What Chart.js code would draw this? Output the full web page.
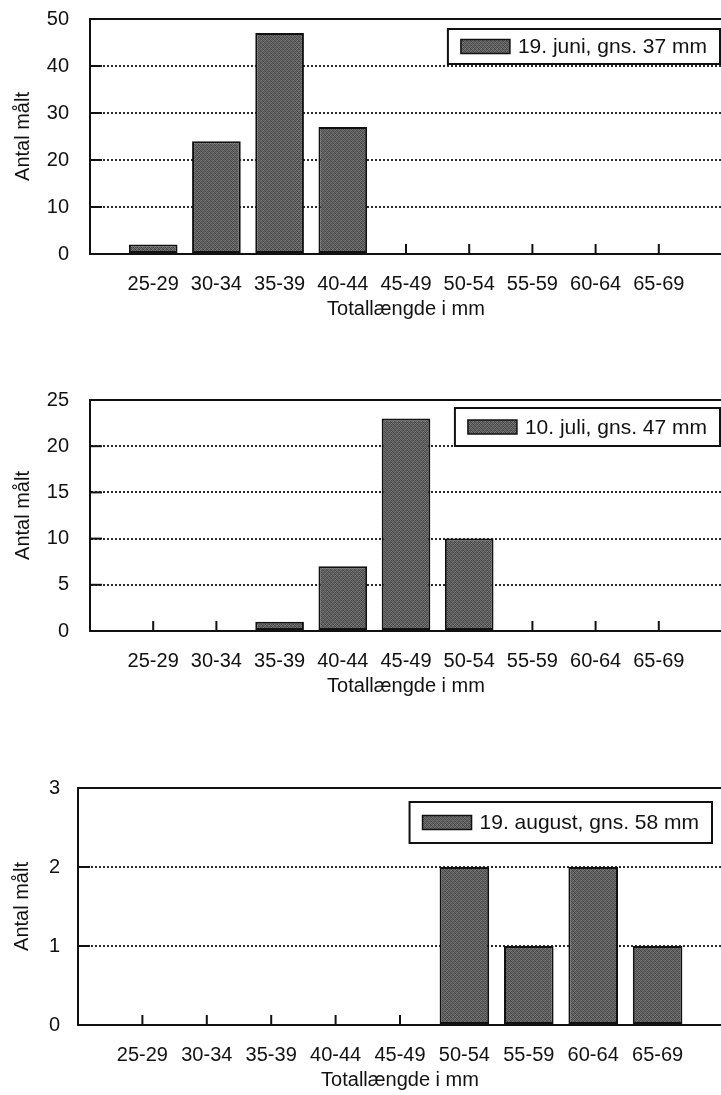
<!DOCTYPE html>
<html>
<head>
<meta charset="utf-8">
<script src="https://cdn.jsdelivr.net/npm/chart.js@4/dist/chart.umd.min.js"></script>
<style>
  html, body { margin: 0; padding: 0; background: #fff; width: 721px; height: 1095px; overflow: hidden; }
  .panel { position: absolute; left: 0; }
</style>
</head>
<body>
<div class="panel" style="top:-14px"><canvas id="juni" width="740" height="338"></canvas></div>
<div class="panel" style="top:367px"><canvas id="juli" width="740" height="334"></canvas></div>
<div class="panel" style="top:758px"><canvas id="august" width="740" height="337"></canvas></div>
<script>
// Laengdeklasser (mm) og antal maalte fisk pr. dato
const sizeClasses = ["25-29", "30-34", "35-39", "40-44", "45-49", "50-54", "55-59", "60-64", "65-69"];
const juniCounts = [2, 24, 47, 27, 0, 0, 0, 0, 0];
const juliCounts = [0, 0, 1, 7, 23, 10, 0, 0, 0];
const augustCounts = [0, 0, 0, 0, 0, 2, 1, 2, 1];

const seriesLabels = ["19. juni, gns. 37 mm", "10. juli, gns. 47 mm", "19. august, gns. 58 mm"];
const yMaxValues = [50, 25, 3];
const yStepValues = [10, 5, 1];
const yTitle = "Antal målt";
const xTitle = "Totallængde i mm";

const ink = "#111";
const gridColor = "#2a2a2a";
Chart.defaults.font.family = "'Liberation Sans', Arial, sans-serif";
Chart.defaults.color = ink;

// Graa, kornet fyld som i den scannede figur (fast moenster, ikke data)
const makeStipple = () => {
  const shades = [0x48, 0x70, 0x54, 0x7c, 0x66, 0x40, 0x78, 0x4e, 0x58, 0x80, 0x46, 0x6c, 0x74, 0x50, 0x62, 0x44];
  const tile = document.createElement("canvas");
  tile.width = 4; tile.height = 4;
  const tctx = tile.getContext("2d");
  shades.forEach((s, i) => {
    tctx.fillStyle = `rgb(${s},${s},${s})`;
    tctx.fillRect(i % 4, Math.floor(i / 4), 1, 1);
  });
  return tctx.createPattern(tile, "repeat");
};
const barFill = makeStipple();

const line = (ctx, x1, y1, x2, y2) => {
  ctx.beginPath();
  ctx.moveTo(x1, y1);
  ctx.lineTo(x2, y2);
  ctx.stroke();
};

// Ramme foroven, korte indadgaaende y-streger og smaa streger ved tomme klasser
const framePlugin = {
  id: "frame",
  afterDatasetsDraw(chart) {
    const { ctx, chartArea: a, scales: { x, y } } = chart;
    ctx.save();
    ctx.strokeStyle = ink;
    ctx.lineWidth = 2;
    line(ctx, a.left, a.top, a.right, a.top);
    y.ticks.forEach((t) => {
      if (t.value <= y.min || t.value >= y.max) return;
      const py = y.getPixelForValue(t.value);
      line(ctx, a.left, py, a.left + 12, py);
    });
    chart.data.datasets[0].data.forEach((v, i) => {
      if (v !== 0) return;
      const px = x.getPixelForValue(i);
      line(ctx, px, a.bottom, px, a.bottom - 10);
    });
    ctx.restore();
  }
};

// Forklaring i boks oeverst til hoejre i plotomraadet
const boxLegend = {
  id: "boxLegend",
  afterDraw(chart, args, opts) {
    const { ctx } = chart;
    const label = chart.data.datasets[0].label;
    ctx.save();
    ctx.font = "21px 'Liberation Sans', Arial, sans-serif";
    const tw = ctx.measureText(label).width;
    const w = 13 + 49 + 8 + tw + 13;
    const left = opts.right - w;
    const top = chart.chartArea.top + opts.offset;
    const h = opts.height;
    ctx.fillStyle = "#fff";
    ctx.fillRect(left, top, w, h);
    ctx.strokeStyle = ink;
    ctx.lineWidth = 2;
    ctx.strokeRect(left, top, w, h);
    ctx.fillStyle = barFill;
    ctx.fillRect(left + 13, top + h / 2 - 7, 49, 14);
    ctx.lineWidth = 1.5;
    ctx.strokeRect(left + 13, top + h / 2 - 7, 49, 14);
    ctx.fillStyle = ink;
    ctx.textBaseline = "middle";
    ctx.fillText(label, left + 70, top + h / 2 + 1);
    ctx.restore();
  }
};

const buildChart = (id, counts, idx, layout) => {
  const yMax = yMaxValues[idx];
  return new Chart(document.getElementById(id), {
    type: "bar",
    data: {
      labels: ["", ...sizeClasses, ""],
      datasets: [{
        label: seriesLabels[idx],
        data: [null, ...counts, null],
        backgroundColor: barFill,
        borderColor: ink,
        borderWidth: 2,
        borderSkipped: false,
        barPercentage: 0.77,
        categoryPercentage: 1
      }]
    },
    options: {
      responsive: false,
      animation: false,
      events: [],
      layout: { padding: { top: 0, right: layout.padRight, bottom: 0, left: 0 } },
      plugins: {
        legend: { display: false },
        tooltip: { enabled: false },
        boxLegend: { right: layout.legendRight, offset: layout.legendOffset, height: layout.legendHeight }
      },
      scales: {
        x: {
          offset: false,
          grid: { display: false, drawTicks: false },
          border: { color: ink, width: 2 },
          ticks: { autoSkip: false, maxRotation: 0, padding: 18, color: ink, font: { size: 20 } },
          title: { display: true, text: xTitle, color: ink, font: { size: 20 }, padding: { top: 0, bottom: 3 } },
          afterFit: (s) => { s.height = 70; }
        },
        y: {
          min: 0,
          max: yMax,
          ticks: { stepSize: yStepValues[idx], padding: layout.tickPad, color: ink, font: { size: 20 } },
          grid: {
            drawTicks: false,
            lineWidth: 2,
            color: (c) => (c.tick && (c.tick.value === 0 || c.tick.value === yMax)) ? "rgba(0,0,0,0)" : gridColor
          },
          border: { color: ink, width: 2, dash: [2, 2] },
          title: { display: true, text: yTitle, color: ink, font: { size: 20 }, padding: { top: layout.titlePad, bottom: 0 } },
          afterFit: (s) => { s.width = layout.yWidth; }
        }
      }
    },
    plugins: [framePlugin, boxLegend]
  });
};

buildChart("juni", juniCounts, 0, { padRight: 15, yWidth: 90, tickPad: 21, titlePad: 11, legendRight: 720, legendOffset: 10, legendHeight: 35 });
buildChart("juli", juliCounts, 1, { padRight: 15, yWidth: 90, tickPad: 21, titlePad: 11, legendRight: 720, legendOffset: 8, legendHeight: 38 });
buildChart("august", augustCounts, 2, { padRight: 10, yWidth: 78, tickPad: 18, titlePad: 10, legendRight: 712, legendOffset: 14, legendHeight: 41 });
</script>
</body>
</html>
